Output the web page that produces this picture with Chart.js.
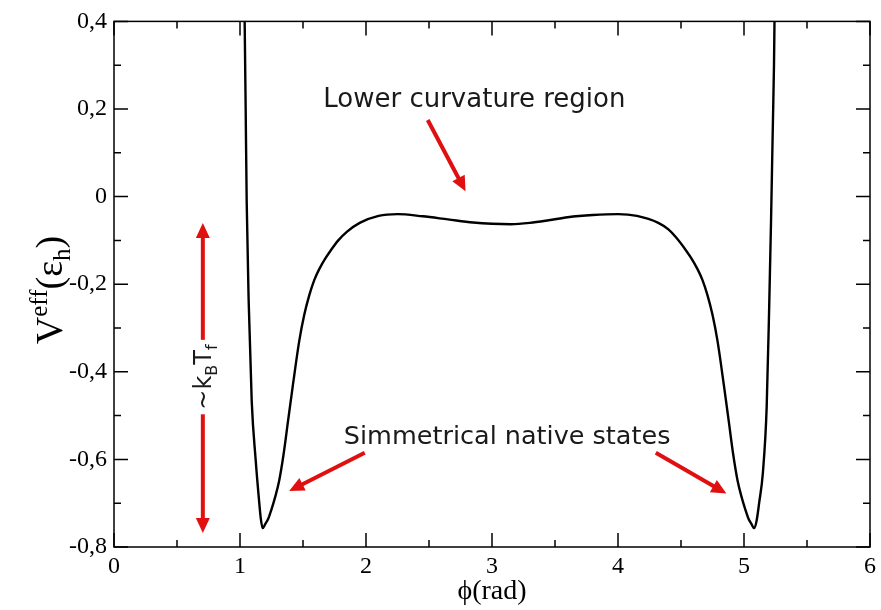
<!DOCTYPE html>
<html>
<head>
<meta charset="utf-8">
<script src="https://cdn.jsdelivr.net/npm/chart.js@4/dist/chart.umd.min.js"></script>
<style>
  body { margin: 0; background: #fff; }
  canvas { display: block; }
</style>
</head>
<body>
<canvas id="veff" width="881" height="610"></canvas>
<script>
// effective potential
var phi = [1.03, 1.037, 1.045, 1.053, 1.069, 1.093, 1.124, 1.15, 1.165, 1.18, 1.20, 1.225, 1.25, 1.28, 1.31, 1.345, 1.38, 1.42, 1.47, 1.51,
           1.55, 1.59, 1.63, 1.68, 1.72, 1.78, 1.85, 1.95, 2.10, 2.25, 2.45, 2.65, 2.85, 3.00, 3.15, 3.30, 3.45, 3.60, 3.80, 4.00,
           4.15, 4.32, 4.40, 4.46, 4.54, 4.58, 4.63, 4.67, 4.71, 4.75, 4.79, 4.84, 4.88, 4.915, 4.95, 4.98, 5.01, 5.035, 5.06, 5.08,
           5.10, 5.12, 5.15, 5.18, 5.20, 5.215, 5.228, 5.238, 5.242, 5.248];
var veff = [0.55, 0.40, 0.20, -0.01, -0.24, -0.467, -0.60, -0.69, -0.735, -0.757, -0.748, -0.735, -0.714, -0.685, -0.65, -0.59, -0.515, -0.43, -0.33, -0.27,
            -0.225, -0.19, -0.165, -0.14, -0.123, -0.10, -0.08, -0.06, -0.044, -0.040, -0.045, -0.052, -0.059, -0.062, -0.063, -0.060, -0.054, -0.047, -0.042, -0.040,
            -0.044, -0.06, -0.075, -0.093, -0.123, -0.14, -0.165, -0.19, -0.225, -0.27, -0.33, -0.43, -0.515, -0.59, -0.65, -0.685, -0.714, -0.735, -0.748, -0.757,
            -0.74, -0.70, -0.63, -0.48, -0.25, -0.05, 0.15, 0.30, 0.40, 0.55];

var xTicks = [0, 1, 2, 3, 4, 5, 6];
var yTicks = [-0.8, -0.6, -0.4, -0.2, 0, 0.2, 0.4];

// annotations, in data units
var arrows = [
  { from: [2.49, 0.175], to: [2.79, 0.012] },
  { from: [1.99, -0.585], to: [1.39, -0.672] },
  { from: [4.30, -0.585], to: [4.86, -0.678] }
];
var notes = [
  { text: 'Lower curvature region', at: [2.86, 0.219], size: 26 },
  { text: 'Simmetrical native states', at: [3.12, -0.549], size: 25.5 }
];
var kbArrow = { x: 0.705, top: -0.06, bottom: -0.768, gapTop: -0.327, gapBottom: -0.497 };

var RED = '#e01010';

function fmt(v) {
  if (Math.abs(v) < 1e-9) return '0';
  return v.toFixed(1).replace('.', ',');
}

function arrowHead(ctx, x1, y1, x2, y2, len, half) {
  var a = Math.atan2(y2 - y1, x2 - x1);
  ctx.beginPath();
  ctx.moveTo(x2, y2);
  ctx.lineTo(x2 - len * Math.cos(a) + half * Math.sin(a), y2 - len * Math.sin(a) - half * Math.cos(a));
  ctx.lineTo(x2 - len * Math.cos(a) - half * Math.sin(a), y2 - len * Math.sin(a) + half * Math.cos(a));
  ctx.closePath();
  ctx.fill();
}

function drawArrow(ctx, x1, y1, x2, y2) {
  var a = Math.atan2(y2 - y1, x2 - x1);
  ctx.beginPath();
  ctx.moveTo(x1, y1);
  ctx.lineTo(x2 - 10 * Math.cos(a), y2 - 10 * Math.sin(a));
  ctx.stroke();
  arrowHead(ctx, x1, y1, x2, y2, 15, 7);
}

// draw a run of [text, size, shift] pieces along the baseline
function drawPieces(ctx, pieces, family, x0) {
  var x = x0;
  pieces.forEach(function (p) {
    ctx.font = p[1] + 'px ' + family;
    ctx.fillText(p[0], x, p[2]);
    x += ctx.measureText(p[0]).width;
  });
}
function piecesWidth(ctx, pieces, family) {
  var w = 0;
  pieces.forEach(function (p) {
    ctx.font = p[1] + 'px ' + family;
    w += ctx.measureText(p[0]).width;
  });
  return w;
}

var decor = {
  id: 'decor',
  afterDraw: function (chart) {
    var ctx = chart.ctx, a = chart.chartArea;
    var xs = chart.scales.x, ys = chart.scales.y;
    ctx.save();

    // frame
    ctx.strokeStyle = '#000';
    ctx.lineWidth = 1.5;
    ctx.strokeRect(a.left, a.top, a.right - a.left, a.bottom - a.top);

    // inward ticks on all four sides, minor ticks half way
    ctx.beginPath();
    for (var i = 0; i < xTicks.length; i++) {
      var px = xs.getPixelForValue(xTicks[i]);
      ctx.moveTo(px, a.bottom); ctx.lineTo(px, a.bottom - 14);
      ctx.moveTo(px, a.top); ctx.lineTo(px, a.top + 14);
      if (i < xTicks.length - 1) {
        var mx = xs.getPixelForValue((xTicks[i] + xTicks[i + 1]) / 2);
        ctx.moveTo(mx, a.bottom); ctx.lineTo(mx, a.bottom - 7);
        ctx.moveTo(mx, a.top); ctx.lineTo(mx, a.top + 7);
      }
    }
    for (var j = 0; j < yTicks.length; j++) {
      var py = ys.getPixelForValue(yTicks[j]);
      ctx.moveTo(a.left, py); ctx.lineTo(a.left + 14, py);
      ctx.moveTo(a.right, py); ctx.lineTo(a.right - 14, py);
      if (j < yTicks.length - 1) {
        var my = ys.getPixelForValue((yTicks[j] + yTicks[j + 1]) / 2);
        ctx.moveTo(a.left, my); ctx.lineTo(a.left + 7, my);
        ctx.moveTo(a.right, my); ctx.lineTo(a.right - 7, my);
      }
    }
    ctx.stroke();

    // y title  V^eff(eps_h)
    ctx.save();
    ctx.fillStyle = '#000';
    ctx.textBaseline = 'alphabetic';
    ctx.translate(62, 290);
    ctx.rotate(-Math.PI / 2);
    var serif = '"Liberation Serif", "Times New Roman", serif';
    var yt = [['V', 38, 0], ['eff', 25, -15], ['(\u03b5', 38, 0], ['h', 25, 8], [')', 38, 0]];
    drawPieces(ctx, yt, serif, -piecesWidth(ctx, yt, serif) / 2);
    ctx.restore();

    // red arrows
    ctx.strokeStyle = RED;
    ctx.fillStyle = RED;
    ctx.lineWidth = 4;
    ctx.lineCap = 'butt';
    arrows.forEach(function (ar) {
      drawArrow(ctx, xs.getPixelForValue(ar.from[0]), ys.getPixelForValue(ar.from[1]),
                xs.getPixelForValue(ar.to[0]), ys.getPixelForValue(ar.to[1]));
    });

    // ~kBTf double arrow
    var kx = xs.getPixelForValue(kbArrow.x);
    var kTop = ys.getPixelForValue(kbArrow.top), kBot = ys.getPixelForValue(kbArrow.bottom);
    var g1 = ys.getPixelForValue(kbArrow.gapTop), g2 = ys.getPixelForValue(kbArrow.gapBottom);
    drawArrow(ctx, kx, g1, kx, kTop);
    drawArrow(ctx, kx, g2, kx, kBot);

    // notes
    ctx.fillStyle = '#1a1a1a';
    var sans = '"DejaVu Sans", sans-serif';
    ctx.textAlign = 'center';
    ctx.textBaseline = 'middle';
    notes.forEach(function (n) {
      ctx.font = n.size + 'px ' + sans;
      ctx.fillText(n.text, xs.getPixelForValue(n.at[0]), ys.getPixelForValue(n.at[1]));
    });

    // ~kBTf label, rotated
    ctx.save();
    ctx.textAlign = 'left';
    ctx.textBaseline = 'alphabetic';
    ctx.translate(kx + 8, (g1 + g2) / 2);
    ctx.rotate(-Math.PI / 2);
    var kb = [['~k', 24, 0], ['B', 16, 6], ['T', 24, 0], ['f', 16, 6]];
    drawPieces(ctx, kb, sans, -piecesWidth(ctx, kb, sans) / 2);
    ctx.restore();

    ctx.restore();
  }
};

new Chart(document.getElementById('veff').getContext('2d'), {
  type: 'line',
  data: {
    datasets: [{
      data: phi.map(function (p, i) { return { x: p, y: veff[i] }; }),
      borderColor: '#000',
      borderWidth: 2.4,
      pointRadius: 0,
      fill: false,
      cubicInterpolationMode: 'monotone'
    }]
  },
  options: {
    responsive: false,
    animation: false,
    layout: { padding: { top: 17, right: 9, left: 0, bottom: 0 } },
    plugins: { legend: { display: false }, tooltip: { enabled: false } },
    scales: {
      x: {
        type: 'linear',
        min: 0, max: 6,
        afterFit: function (s) { s.height = 63; },
        afterBuildTicks: function (s) { s.ticks = xTicks.map(function (v) { return { value: v }; }); },
        grid: { display: false, drawTicks: false },
        border: { display: false },
        ticks: {
          color: '#000', padding: 5,
          font: { family: '"Liberation Serif", serif', size: 24 },
          maxRotation: 0,
          callback: function (v) { return String(v); }
        },
        title: {
          display: true, text: '\u03d5(rad)', color: '#000',
          font: { family: '"Liberation Serif", serif', size: 28 },
          padding: { top: 0, bottom: 2 }
        }
      },
      y: {
        min: -0.8, max: 0.4,
        afterFit: function (s) { s.width = 114; },
        afterBuildTicks: function (s) { s.ticks = yTicks.map(function (v) { return { value: v }; }); },
        grid: { display: false, drawTicks: false },
        border: { display: false },
        ticks: {
          color: '#000', padding: 7,
          font: { family: '"Liberation Serif", serif', size: 24 },
          callback: function (v) { return fmt(v); }
        }
      }
    }
  },
  plugins: [decor]
});
</script>
</body>
</html>
